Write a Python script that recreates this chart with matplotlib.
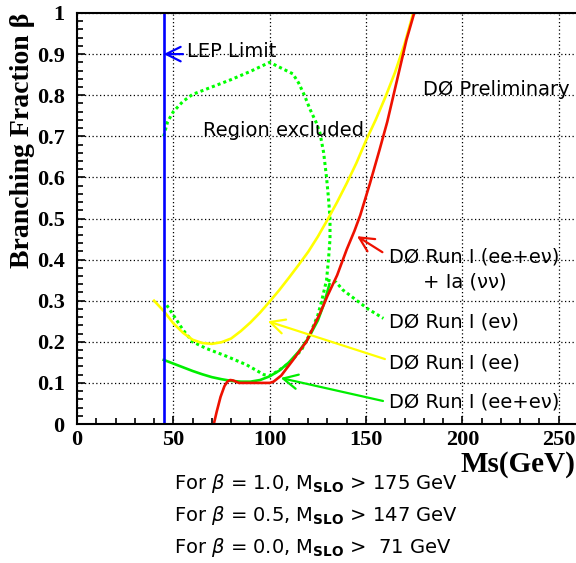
import matplotlib
matplotlib.use('Agg')
import matplotlib.pyplot as plt
from matplotlib.ticker import MultipleLocator

# D0 Run I (ee+enu) + Ia (nunu)  -- red
red_x = [71, 72.5, 74.5, 76.5, 78, 79.5, 81, 84, 90, 100, 102, 106, 112, 119, 126, 130, 135, 140, 144, 147, 152, 157, 161, 166, 171, 175]
red_y = [0.0, 0.03, 0.066, 0.092, 0.103, 0.107, 0.106, 0.1, 0.1, 0.1, 0.103, 0.118, 0.155, 0.2, 0.268, 0.312, 0.362, 0.425, 0.47, 0.508, 0.585, 0.667, 0.735, 0.835, 0.935, 1.0]

# D0 Run I (ee)  -- yellow
yel_x = [40, 45, 50, 55, 60, 65, 70, 75, 80, 85, 90, 95, 100, 105, 110, 115, 120, 125, 130, 135, 140, 145, 150, 155, 160, 165, 170, 174.5]
yel_y = [0.3, 0.275, 0.245, 0.222, 0.205, 0.197, 0.195, 0.199, 0.208, 0.226, 0.247, 0.271, 0.298, 0.326, 0.356, 0.387, 0.419, 0.456, 0.497, 0.54, 0.586, 0.635, 0.69, 0.74, 0.795, 0.855, 0.925, 1.0]

# D0 Run I (ee+enu)  -- green solid
grn_x = [45, 50, 55, 60, 65, 70, 75, 80, 85, 90, 95, 100, 105, 110, 115, 120, 125, 128, 131]
grn_y = [0.156, 0.147, 0.138, 0.129, 0.121, 0.114, 0.109, 0.105, 0.103, 0.103, 0.107, 0.116, 0.13, 0.15, 0.176, 0.208, 0.252, 0.29, 0.34]

# D0 Run I (enu)  -- green dotted contour
enu_x = [45, 47, 50, 55, 60, 70, 80, 90, 100, 106, 112, 115, 118, 121, 124, 126, 128, 129.5, 130.5, 131.3, 131.3, 130.5, 129.5,
         127, 125, 121.5, 116.5, 110, 104, 100, 97, 88, 77.5, 67, 60, 55, 50, 45]
enu_y = [0.7, 0.735, 0.76, 0.785, 0.802, 0.82, 0.838, 0.858, 0.88, 0.866, 0.852, 0.83, 0.8, 0.765, 0.735, 0.71, 0.66, 0.6, 0.55, 0.5, 0.45, 0.4, 0.35,
         0.3, 0.265, 0.225, 0.18, 0.148, 0.128, 0.118, 0.12, 0.144, 0.165, 0.184, 0.2, 0.229, 0.265, 0.3]
enu_lead_x = [130, 134.5, 138, 151, 159]
enu_lead_y = [0.35, 0.345, 0.326, 0.28, 0.257]

lep_x = 45

bottom_lines = [r'For $\beta$ = 1.0, M$_{\mathbf{SLO}}$ > 175 GeV',
                r'For $\beta$ = 0.5, M$_{\mathbf{SLO}}$ > 147 GeV',
                r'For $\beta$ = 0.0, M$_{\mathbf{SLO}}$ >  71 GeV']

fig = plt.figure(figsize=(5.76, 5.63), dpi=100)
ax = fig.add_axes([77/576, 1-424/563, 501/576, 411/563])

serif = dict(family='Liberation Serif', weight='bold')
txt = dict(family='DejaVu Sans', fontsize=14)

ax.plot(enu_x, enu_y, color='#00ff00', lw=2.2, ls=(0, (1, 1)))
ax.plot(enu_lead_x, enu_lead_y, color='#00ff00', lw=2.2, ls=(0, (1, 1)))
ax.plot(yel_x, yel_y, color='#ffff00', lw=1.9)
ax.plot(grn_x, grn_y, color='#00ee00', lw=1.9)
ax.plot(red_x, red_y, color='#ee1100', lw=1.9)
ax.axvline(lep_x, color='#0000ff', lw=1.9)

arr = dict(arrowstyle='->', lw=1.6, mutation_scale=26, shrinkA=0, shrinkB=0)
ax.annotate('', xy=(45, 0.9), xytext=(55, 0.9), arrowprops=dict(arr, color='#0000ff'))
ax.annotate('', xy=(145.3, 0.457), xytext=(158.5, 0.418), arrowprops=dict(arr, color='#ee1100'))
ax.annotate('', xy=(99, 0.25), xytext=(159.8, 0.158), arrowprops=dict(arr, color='#ffff00'))
ax.annotate('', xy=(105.7, 0.112), xytext=(158.8, 0.056), arrowprops=dict(arr, color='#00ee00'))

ax.text(57, 0.893, 'LEP Limit', va='baseline', **txt)
ax.text(65.4, 0.70, 'Region excluded', va='baseline', **txt)
ax.text(179.5, 0.80, 'DØ Preliminary', va='baseline', **txt)
ax.text(162, 0.392, 'DØ Run I (ee+eν)', va='baseline', **txt)
ax.text(179.5, 0.333, '+ Ia (νν)', va='baseline', **txt)
ax.text(162, 0.236, 'DØ Run I (eν)', va='baseline', **txt)
ax.text(162, 0.136, 'DØ Run I (ee)', va='baseline', **txt)
ax.text(162, 0.039, 'DØ Run I (ee+eν)', va='baseline', **txt)

ax.set_xlim(0, 260)
ax.set_ylim(0, 1)
ax.xaxis.set_major_locator(MultipleLocator(50))
ax.xaxis.set_minor_locator(MultipleLocator(10))
ax.yaxis.set_major_locator(MultipleLocator(0.1))
ax.yaxis.set_minor_locator(MultipleLocator(0.02))
ax.set_yticks([0, 0.1, 0.2, 0.3, 0.4, 0.5, 0.6, 0.7, 0.8, 0.9, 1.0])
ax.set_yticklabels(['0', '0.1', '0.2', '0.3', '0.4', '0.5', '0.6', '0.7', '0.8', '0.9', '1'])
ax.set_xticks([0, 50, 100, 150, 200, 250])
ax.grid(True, which='major', color='black', ls=(0, (1, 2)), lw=0.9)
ax.tick_params(which='both', direction='in', width=1.2)
ax.tick_params(which='major', length=6)
ax.tick_params(which='minor', length=4)
ax.tick_params(axis='y', pad=9)
ax.tick_params(axis='x', pad=4)
for lab in ax.get_xticklabels() + ax.get_yticklabels():
    lab.set_fontfamily('Liberation Serif')
    lab.set_fontweight('bold')
    lab.set_fontsize(16)
for s in ax.spines.values():
    s.set_linewidth(1.5)

ax.set_ylabel('Branching Fraction β', fontsize=20, ha='right', **serif)
ax.yaxis.set_label_coords(-0.083, 1.0)
fig.text(0.999, 1-472/563, 'Ms(GeV)', ha='right', va='baseline', fontsize=21, **serif)

for i, line in enumerate(bottom_lines):
    fig.text(174/576, 1-(489+32*i)/563, line, va='baseline', **txt)

plt.savefig('out.png', dpi=100)
